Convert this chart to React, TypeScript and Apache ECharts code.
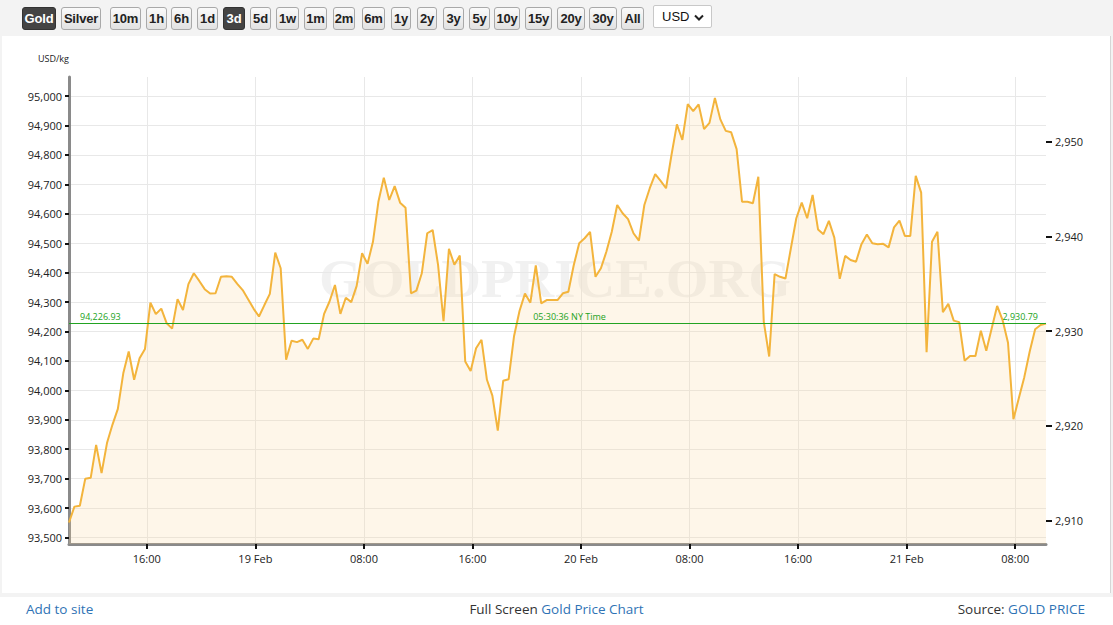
import React, { useEffect, useRef } from "react";
import * as echarts from "echarts";

// ---------- data ----------
const START_TIME = new Date(2025, 1, 18, 10, 16).getTime();
const STEP_MINUTES = 24;

const PRICE_USD_KG = [
  93551, 93605, 93608, 93700, 93703, 93815, 93719, 93821, 93883, 93937,
  94058, 94132, 94036, 94109, 94141, 94298, 94259, 94278, 94228, 94210,
  94310, 94273, 94361, 94398, 94372, 94344, 94329, 94330, 94386, 94388,
  94386, 94362, 94341, 94310, 94278, 94251, 94290, 94328, 94468, 94415,
  94104, 94169, 94164, 94172, 94141, 94176, 94174, 94260, 94302, 94358,
  94260, 94315, 94300, 94355, 94466, 94430, 94505, 94641, 94723, 94647,
  94694, 94638, 94621, 94330, 94339, 94398, 94534, 94545, 94426, 94235,
  94481, 94427, 94458, 94098, 94066, 94143, 94172, 94036, 93982, 93863,
  94033, 94038, 94185, 94270, 94329, 94298, 94425, 94296, 94307, 94307,
  94307, 94330, 94335, 94426, 94500, 94517, 94539, 94386, 94415, 94471,
  94539, 94630, 94602, 94582, 94534, 94509, 94630, 94687, 94735, 94712,
  94687, 94800, 94904, 94851, 94973, 94949, 94972, 94888, 94909, 94994,
  94921, 94882, 94877, 94820, 94641, 94641, 94636, 94726, 94234, 94115,
  94395, 94386, 94380, 94483, 94585, 94638, 94585, 94664, 94547, 94531,
  94576, 94519, 94379, 94457, 94443, 94437, 94497, 94530, 94500, 94497,
  94498, 94486, 94554, 94577, 94525, 94525, 94729, 94672, 94130, 94505,
  94539, 94266, 94294, 94237, 94232, 94101, 94117, 94117, 94203, 94135,
  94211, 94287, 94239, 94162, 93902, 93974, 94045, 94132, 94208, 94222,
  94226.93,
];

// [day of Feb 2025, hour]
const X_TICKS = [
  [18, 16], [19, 0], [19, 8], [19, 16], [20, 0], [20, 8], [20, 16], [21, 0], [21, 8],
];
const LEFT_TICKS = [
  93500, 93600, 93700, 93800, 93900, 94000, 94100, 94200,
  94300, 94400, 94500, 94600, 94700, 94800, 94900, 95000,
];
const RIGHT_TICKS = [2910, 2920, 2930, 2940, 2950];
const GRAMS_OZ_PER_KG = 32.1507466;
const LEFT_MIN = 93478;
const LEFT_MAX = 95065;
const CURRENT_PRICE = 94226.93;
const CURRENT_TIME_LABEL = "05:30:36 NY Time";
const UNIT_LABEL = "USD/kg";
const WATERMARK = "GOLDPRICE.ORG";

const BUTTONS = [
  "Gold", "Silver", "10m", "1h", "6h", "1d", "3d", "5d", "1w", "1m", "2m",
  "6m", "1y", "2y", "3y", "5y", "10y", "15y", "20y", "30y", "All",
];
const ACTIVE_BUTTONS = ["Gold", "3d"];
// layout of the toolbar buttons: [left, width]
const BUTTON_BOXES = [
  [22, 34], [61, 40], [110, 31], [146, 21], [171, 21], [197, 21], [223, 22],
  [250, 21], [276, 23], [304, 23], [333, 22], [362, 23], [391, 20], [417, 20],
  [443, 21], [469, 21], [494, 26], [525, 27], [557, 28], [589, 28], [621, 23],
];

// ---------- helpers ----------
function addCommas(n: number, decimals = 0): string {
  const s = n.toFixed(decimals);
  const [intPart, dec] = s.split(".");
  const withCommas = intPart.replace(/\B(?=(\d{3})+(?!\d))/g, ",");
  return dec ? withCommas + "." + dec : withCommas;
}
function pad2(n: number) {
  return n < 10 ? "0" + n : "" + n;
}

function Chart() {
  const ref = useRef<HTMLDivElement>(null);
  useEffect(() => {
    if (!ref.current) return;
    const chart = echarts.init(ref.current, undefined, { renderer: "svg" });
    const seriesData = PRICE_USD_KG.map((v, i) => [START_TIME + i * STEP_MINUTES * 60000, v]);
    const xTickValues = X_TICKS.map(([d, h]) => new Date(2025, 1, d, h, 0).getTime());
    const endTime = START_TIME + (PRICE_USD_KG.length - 1) * STEP_MINUTES * 60000;
    const green = "#22a322";
    const markLabel = { color: green, fontSize: 9, distance: 3, fontFamily: "Open Sans" };

    chart.setOption({
      animation: false,
      backgroundColor: "#ffffff",
      textStyle: { fontFamily: "Open Sans" },
      grid: { left: 67, right: 64, top: 41, bottom: 49, containLabel: false },
      graphic: [
        {
          type: "text",
          z: 0,
          x: 553,
          y: 242,
          silent: true,
          style: {
            text: WATERMARK,
            font: 'bold 55px "Liberation Serif", "DejaVu Serif", serif',
            fill: "rgba(0,0,0,0.055)",
            textAlign: "center",
            textVerticalAlign: "middle",
          },
        },
      ],
      xAxis: {
        type: "value",
        min: START_TIME,
        max: endTime,
        boundaryGap: false,
        axisLine: { show: true, lineStyle: { color: "#8a8a8a", width: 3 } },
        axisTick: {
          show: true,
          length: 5,
          lineStyle: { color: "#111", width: 2 },
          customValues: xTickValues,
        },
        axisLabel: {
          customValues: xTickValues,
          margin: 9,
          fontSize: 11,
          color: "#222",
          formatter: (val: number) => {
            const d = new Date(val);
            return d.getHours() === 0 ? d.getDate() + " Feb" : pad2(d.getHours()) + ":00";
          },
        },
        splitLine: { show: true, lineStyle: { color: "#e8e8e8", width: 1 } },
      },
      yAxis: [
        {
          type: "value",
          min: LEFT_MIN,
          max: LEFT_MAX,
          name: UNIT_LABEL,
          nameLocation: "end",
          nameGap: 14,
          nameTextStyle: { fontSize: 9, color: "#222", align: "right", fontFamily: "Open Sans" },
          axisLine: { show: true, lineStyle: { color: "#8a8a8a", width: 3 } },
          axisTick: {
            show: true,
            length: 4,
            lineStyle: { color: "#111", width: 2 },
            customValues: LEFT_TICKS,
          },
          axisLabel: {
            customValues: LEFT_TICKS,
            margin: 7,
            fontSize: 11,
            color: "#222",
            formatter: (v: number) => addCommas(v),
          },
          splitLine: { show: true, lineStyle: { color: "#e8e8e8", width: 1 } },
        },
        {
          type: "value",
          position: "right",
          min: LEFT_MIN / GRAMS_OZ_PER_KG,
          max: LEFT_MAX / GRAMS_OZ_PER_KG,
          axisLine: { show: false },
          axisTick: {
            show: true,
            length: 6,
            lineStyle: { color: "#111", width: 2 },
            customValues: RIGHT_TICKS,
          },
          axisLabel: {
            customValues: RIGHT_TICKS,
            margin: 9,
            fontSize: 11,
            color: "#222",
            formatter: (v: number) => addCommas(v),
          },
          splitLine: { show: false },
        },
      ],
      series: [
        {
          type: "line",
          z: 3,
          data: seriesData,
          yAxisIndex: 0,
          showSymbol: false,
          symbol: "none",
          lineStyle: { color: "#f3b43c", width: 2 },
          areaStyle: { color: "rgba(250, 214, 150, 0.3)", origin: "start" },
          markLine: {
            silent: true,
            symbol: "none",
            animation: false,
            lineStyle: { color: green, width: 1, type: "solid" },
            data: [
              {
                yAxis: CURRENT_PRICE,
                lineStyle: { color: green, width: 1, type: "solid" },
                label: {
                  ...markLabel,
                  position: "insideStartTop",
                  offset: [8, 0],
                  formatter: addCommas(CURRENT_PRICE, 2),
                },
              },
              {
                yAxis: CURRENT_PRICE,
                lineStyle: { color: green, width: 1, type: "solid" },
                label: {
                  ...markLabel,
                  position: "insideMiddleTop",
                  offset: [12, 0],
                  formatter: CURRENT_TIME_LABEL,
                },
              },
              {
                yAxis: CURRENT_PRICE,
                lineStyle: { color: green, width: 1, type: "solid" },
                label: {
                  ...markLabel,
                  position: "insideEndTop",
                  offset: [-5, 0],
                  formatter: addCommas(CURRENT_PRICE / GRAMS_OZ_PER_KG, 2),
                },
              },
            ],
          },
        },
      ],
    });
    return () => chart.dispose();
  }, []);
  return (
    <div
      ref={ref}
      style={{ position: "absolute", left: 2, top: 36, width: 1108, height: 557, background: "#fff" }}
    />
  );
}

export default function App() {
  const linkColor = "#2f73b5";
  return (
    <div
      style={{
        position: "fixed",
        left: 0,
        top: 0,
        width: 1113,
        height: 625,
        background: "#f3f3f3",
        overflow: "hidden",
        fontFamily: '"Open Sans", sans-serif',
      }}
    >
      {BUTTONS.map((b, i) => {
        const [left, width] = BUTTON_BOXES[i];
        const active = ACTIVE_BUTTONS.includes(b);
        return (
          <div
            key={b}
            style={{
              position: "absolute",
              left,
              top: 7,
              width,
              height: 23,
              boxSizing: "border-box",
              border: active ? "1px solid #333" : "1px solid #a9a9a9",
              borderRadius: 3,
              background: active ? "#444" : "linear-gradient(#fafafa, #e2e2e2)",
              color: active ? "#fff" : "#222",
              fontFamily: '"Liberation Sans Narrow", "Arial Narrow", "Liberation Sans", sans-serif',
              fontWeight: "bold",
              fontSize: 13,
              lineHeight: "21px",
              textAlign: "center",
              letterSpacing: -0.2,
            }}
          >
            {b}
          </div>
        );
      })}
      <div
        style={{
          position: "absolute",
          left: 653,
          top: 5,
          width: 59,
          height: 23,
          boxSizing: "border-box",
          border: "1px solid #c8c8c8",
          borderRadius: 2,
          background: "#fff",
          fontFamily: '"Liberation Sans", sans-serif',
          fontSize: 13,
          lineHeight: "21px",
          color: "#111",
          paddingLeft: 8,
        }}
      >
        USD
        <svg width="10" height="8" style={{ position: "absolute", right: 7, top: 8 }}>
          <polyline points="1,1.5 5,5.5 9,1.5" fill="none" stroke="#222" strokeWidth="2" />
        </svg>
      </div>
      <Chart />
      <div style={{ position: "absolute", left: 1110, top: 36, width: 1, height: 557, background: "#d6d6d6" }} />
      <div
        style={{
          position: "absolute",
          left: 0,
          top: 597,
          width: 1113,
          height: 28,
          background: "#fff",
          fontSize: 13.5,
          color: "#333",
        }}
      >
        <div style={{ position: "absolute", left: 26, top: 3, color: linkColor }}>Add to site</div>
        <div style={{ position: "absolute", left: 0, width: 1113, top: 3, textAlign: "center" }}>
          Full Screen <span style={{ color: linkColor }}>Gold Price Chart</span>
        </div>
        <div style={{ position: "absolute", right: 28, top: 3 }}>
          Source: <span style={{ color: linkColor }}>GOLD PRICE</span>
        </div>
      </div>
    </div>
  );
}
